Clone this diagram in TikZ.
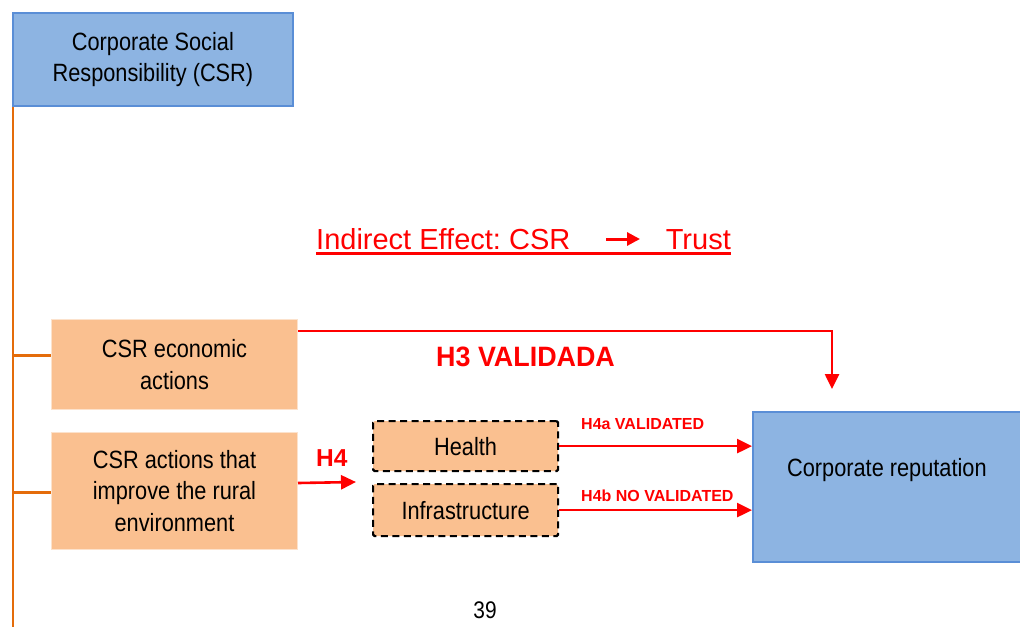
\documentclass[tikz,border=0pt]{standalone}
\usepackage{fontspec}
\setmainfont{Liberation Sans}
\newfontfamily\narrowsf[FakeStretch=0.87]{Liberation Sans}
\newfontfamily\semisf[FakeStretch=0.96]{Liberation Sans}
\usetikzlibrary{arrows.meta,calc}
\frenchspacing

\definecolor{csrblue}{HTML}{8DB4E2}
\definecolor{csrblueline}{HTML}{5A8ED6}
\definecolor{peach}{HTML}{FAC090}
\definecolor{peachline}{HTML}{FCE2CC}
\definecolor{trunk}{HTML}{E46C0A}
\definecolor{hred}{HTML}{FF0000}

\tikzset{
  x=1pt, y=-1pt,
  boxtext/.style={font=\narrowsf\fontsize{25}{31.5}\selectfont, align=center, text=black},
  bluebox/.style={draw=csrblueline, line width=1.8pt, fill=csrblue, inner sep=0pt, anchor=north west},
  peachbox/.style={draw=peachline, line width=1pt, fill=peach, inner sep=0pt, anchor=north west},
  dimbox/.style={draw=black, dashed, dash pattern=on 7pt off 4.5pt, line width=2.2pt, fill=peach,
                 rounded corners=1.5pt, inner sep=0pt, anchor=north west},
  branch/.style={draw=trunk, line width=2.2pt},
  effect/.style={draw=hred, line width=2.6pt, -{Triangle[length=15pt,width=14pt]}},
  hyp/.style={text=hred, font=\bfseries\fontsize{16}{18}\selectfont, inner sep=0pt},
  hypbig/.style={text=hred, font=\semisf\bfseries\fontsize{28}{30}\selectfont, inner sep=0pt},
  hypmid/.style={text=hred, font=\bfseries\fontsize{24.5}{26}\selectfont, inner sep=0pt},
}

\begin{document}
\begin{tikzpicture}
\useasboundingbox (0,0) rectangle (1020,627);

% main construct and its dimensions
\node[bluebox, minimum width=280pt, minimum height=93pt, boxtext] (csr) at (12,12)
  {Corporate Social\\Responsibility (CSR)};
\node[peachbox, minimum width=246pt, minimum height=90pt, boxtext] (econ) at (51,319)
  {CSR economic\\actions};
\node[peachbox, minimum width=246pt, minimum height=117pt, boxtext] (rural) at (51,432)
  {CSR actions that\\improve the rural\\environment};

% sub-dimensions of rural actions
\node[dimbox, minimum width=185pt, minimum height=50pt, boxtext] (health) at (372,420) {Health};
\node[dimbox, minimum width=185pt, minimum height=52pt, boxtext] (infra) at (372,483) {Infrastructure};

% outcome
\node[bluebox, minimum width=268pt, minimum height=150pt] (rep) at (752,411) {};
\node[boxtext, inner sep=0pt] (reptext) at ($(rep.center)+(0,-17)$) {Corporate reputation};

% orange trunk with branches
\coordinate (trunkend) at (13,627);
\draw[draw=trunk, line width=2.8pt] ($(csr.south west)+(1,0)$) -- (trunkend);
\draw[branch] ($(econ.west -| trunkend)+(0,-9)$) -- ($(econ.west)+(0,-9)$);
\draw[branch] ($(rural.west -| trunkend)+(0,1.5)$) -- ($(rural.west)+(0,1.5)$);

% heading
\node[text=hred, font=\fontsize{29}{32}\selectfont, inner sep=0pt, anchor=base west] (ie1) at (316,249)
  {Indirect Effect: CSR};
\node[text=hred, font=\fontsize{29}{32}\selectfont, inner sep=0pt, anchor=base east] (ie2) at (731,249)
  {Trust};
\coordinate (ieA) at (606,239);
\coordinate (ieB) at (640,239);
\draw[draw=hred, line width=3pt, -{Triangle[length=13pt,width=13pt]}] (ieA) -- (ieB);
\draw[draw=hred, line width=2.4pt] ($(ie1.base west)+(0,4.5)$) -- ($(ie2.base east)+(0,4.5)$);

% hypothesis paths
\coordinate (h3tip) at (832,389);
\draw[effect] ($(econ.north east)+(0,12)$) -| (h3tip);
\node[hypbig, anchor=base west] (h3) at (436,366) {H3 VALIDADA};

\coordinate (h4tip) at (356,482);
\draw[effect] ($(rural.east)+(0,-8)$) -- (h4tip);
\node[hypmid, anchor=base west] (h4) at (316,466) {H4};

\draw[effect] (health.east) -- (health.east -| rep.west);
\draw[effect] (infra.east) -- (infra.east -| rep.west);
\node[hyp, anchor=base west] (h4a) at (581,429) {H4a VALIDATED};
\node[hyp, anchor=base west] (h4b) at (581,501) {H4b NO VALIDATED};

% page number
\node[font=\narrowsf\fontsize{24}{28}\selectfont, inner sep=0pt, anchor=base] (page) at (485,618) {39};
\end{tikzpicture}
\end{document}
